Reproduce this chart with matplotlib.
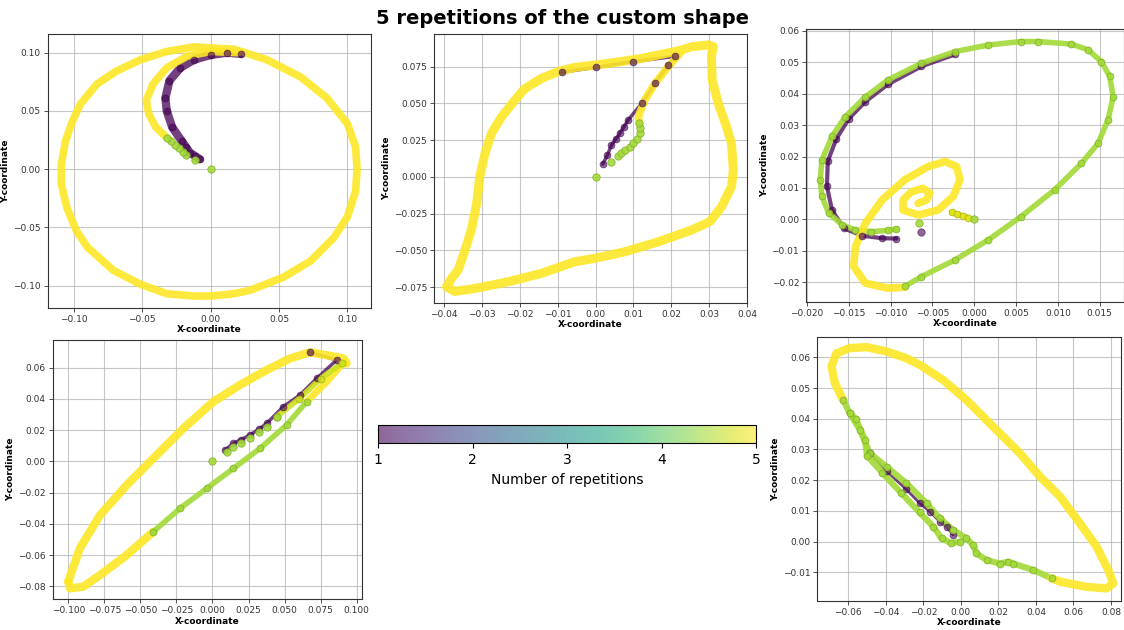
import matplotlib
matplotlib.use("Agg")
import matplotlib.pyplot as plt
import numpy as np

plt.rcParams["font.family"] = ["DejaVu Sans"]

# panel 1 - round loop
p1_loop_x = [0.000, 0.017, 0.041, 0.066, 0.085, 0.100, 0.106, 0.107, 0.106, 0.100, 0.090, 0.073, 0.053, 0.029, 0.017,
             0.000, -0.012, -0.032, -0.051, -0.071, -0.090, -0.098, -0.105, -0.109, -0.109, -0.106, -0.101, -0.095,
             -0.083, -0.069, -0.051, -0.032, -0.012, 0.000]
p1_loop_y = [0.104, 0.103, 0.094, 0.079, 0.061, 0.039, 0.019, 0.000, -0.019, -0.041, -0.059, -0.079, -0.093, -0.104,
             -0.107, -0.109, -0.109, -0.107, -0.099, -0.087, -0.067, -0.053, -0.033, -0.013, 0.004, 0.024, 0.041,
             0.056, 0.073, 0.084, 0.094, 0.101, 0.105, 0.104]
p1_hook_x = [-0.032, -0.040, -0.045, -0.047, -0.042, -0.032, -0.017, 0.000, 0.020]
p1_hook_y = [0.027, 0.036, 0.047, 0.059, 0.073, 0.087, 0.097, 0.101, 0.100]
p1_start_x = [0.000, -0.011, -0.018, -0.020, -0.023, -0.026, -0.029, -0.032]
p1_start_y = [0.000, 0.008, 0.012, 0.015, 0.018, 0.021, 0.024, 0.027]
p1_first_x = [-0.008, -0.011, -0.015, -0.018, -0.021, -0.028, -0.032, -0.033, -0.030, -0.022, -0.012, 0.000, 0.012, 0.022]
p1_first_y = [0.0086, 0.011, 0.014, 0.019, 0.024, 0.036, 0.050, 0.061, 0.076, 0.087, 0.094, 0.098, 0.100, 0.099]

# panel 2 - leaf shape
p2_loop_x = [0.0223, 0.0122, 0.0033, -0.0055, -0.0099, -0.0143, -0.0187, -0.0213, -0.0248, -0.0275, -0.0292, -0.0306,
             -0.0314, -0.0328, -0.0345, -0.0363, -0.0380, -0.0394, -0.0372, -0.0319, -0.0230, -0.0143, -0.0055,
             -0.0002, 0.0077, 0.0166, 0.0254, 0.0302, 0.0333, 0.0359, 0.0364, 0.0359, 0.0346, 0.0324, 0.0308, 0.0306,
             0.0311, 0.0298, 0.0254, 0.0223]
p2_loop_y = [0.0860, 0.0806, 0.0772, 0.0745, 0.0716, 0.0670, 0.0600, 0.0523, 0.0410, 0.0296, 0.0160, 0.0000, -0.0180,
             -0.0360, -0.0500, -0.0634, -0.0690, -0.0748, -0.0780, -0.0760, -0.0714, -0.0657, -0.0578, -0.0555,
             -0.0510, -0.0442, -0.0362, -0.0305, -0.0203, -0.0067, 0.0047, 0.0228, 0.0341, 0.0500, 0.0659, 0.0818,
             0.0886, 0.0898, 0.0886, 0.0860]
p2_stem_x = [0.0115, 0.0113, 0.0130, 0.0157, 0.0192, 0.0223]
p2_stem_y = [0.0364, 0.0410, 0.0523, 0.0636, 0.0750, 0.0840]
p2_start_x = [0.0000, 0.0040, 0.0058, 0.0068, 0.0077, 0.0090, 0.0100, 0.0110, 0.0117, 0.0117, 0.0115]
p2_start_y = [0.0000, 0.0099, 0.0142, 0.0160, 0.0183, 0.0205, 0.0228, 0.0260, 0.0296, 0.0330, 0.0364]
p2_first_x = [0.0019, 0.0031, 0.0042, 0.0053, 0.0064, 0.0075, 0.0086, 0.0122, 0.0157, 0.0192, 0.0210, 0.0100, 0.0000,
              -0.0090]
p2_first_y = [0.0087, 0.0146, 0.0216, 0.0255, 0.0296, 0.0340, 0.0387, 0.0500, 0.0636, 0.0760, 0.0820, 0.0785, 0.0745,
              0.0712]

# panel 3 - ellipse + spiral
p3_ring_x = [-0.0083, -0.0063, -0.0023, 0.0017, 0.0056, 0.0096, 0.0128, 0.0148, 0.0160, 0.0166, 0.0162, 0.0152, 0.0136,
             0.0116, 0.0076, 0.0056, 0.0017, -0.0023, -0.0063, -0.0103, -0.0130, -0.0154, -0.0170, -0.0182, -0.0184,
             -0.0182, -0.0174, -0.0158, -0.0142, -0.0123, -0.0103, -0.0093]
p3_ring_y = [-0.0213, -0.0182, -0.0129, -0.0065, 0.0009, 0.0094, 0.0178, 0.0242, 0.0317, 0.0390, 0.0455, 0.0502, 0.0540,
             0.0558, 0.0566, 0.0566, 0.0555, 0.0534, 0.0497, 0.0444, 0.0390, 0.0327, 0.0264, 0.0189, 0.0126, 0.0073,
             0.0020, -0.0017, -0.0034, -0.0039, -0.0035, -0.0031]
p3_first_x = [-0.0023, -0.0063, -0.0103, -0.0130, -0.0150, -0.0165, -0.0175, -0.0176, -0.0170, -0.0156, -0.0134, -0.0110,
              -0.0093]
p3_first_y = [0.0525, 0.0487, 0.0430, 0.0375, 0.0320, 0.0255, 0.0185, 0.0105, 0.0030, -0.0028, -0.0052, -0.0060, -0.0061]
p3_spiral_x = [-0.0083, -0.0103, -0.0130, -0.0144, -0.0142, -0.0130, -0.0110, -0.0083, -0.0055, -0.0035, -0.0021,
               -0.0017, -0.0025, -0.0043, -0.0067, -0.0085, -0.0085, -0.0075, -0.0061, -0.0053, -0.0057, -0.0067]
p3_spiral_y = [-0.0216, -0.0219, -0.0203, -0.0150, -0.0087, -0.0012, 0.0062, 0.0126, 0.0168, 0.0184, 0.0168, 0.0126,
               0.0073, 0.0030, 0.0014, 0.0030, 0.0062, 0.0088, 0.0099, 0.0083, 0.0062, 0.0051]
p3_tail_x = [-0.0027, -0.0020, -0.0013, -0.0007]
p3_tail_y = [0.0022, 0.0017, 0.0011, 0.0006]
p3_dots_x = [0.0000, -0.0066]
p3_dots_y = [0.0000, -0.0012]
p3_dot1_x = [-0.0064]
p3_dot1_y = [-0.0040]

# panel 4 - long slanted loop
p4_upper_x = [-0.1000, -0.0920, -0.0780, -0.0595, -0.0410, -0.0202, 0.0006, 0.0190, 0.0376, 0.0538, 0.0676, 0.0815,
              0.0908, 0.0930]
p4_upper_y = [-0.0770, -0.0557, -0.0344, -0.0152, 0.0019, 0.0211, 0.0382, 0.0489, 0.0585, 0.0659, 0.0698, 0.0676,
              0.0659, 0.0627]
p4_lowleft_x = [-0.1000, -0.0988, -0.0896, -0.0780, -0.0595, -0.0410]
p4_lowleft_y = [-0.0770, -0.0813, -0.0802, -0.0728, -0.0600, -0.0450]
p4_lower_x = [-0.0410, -0.0225, -0.0040, 0.0145, 0.0330, 0.0514, 0.0653]
p4_lower_y = [-0.0450, -0.0301, -0.0173, -0.0045, 0.0083, 0.0233, 0.0382]
p4_lowright_x = [0.0653, 0.0792, 0.0884, 0.0930]
p4_lowright_y = [0.0382, 0.0510, 0.0606, 0.0638]
p4_start_x = [0.0000, 0.0098, 0.0145, 0.0200, 0.0260, 0.0320, 0.0376, 0.0445]
p4_start_y = [0.0000, 0.0058, 0.0094, 0.0120, 0.0147, 0.0185, 0.0222, 0.0286]
p4_mid_x = [0.0445, 0.0600, 0.0750, 0.0900]
p4_mid_y = [0.0286, 0.0400, 0.0530, 0.0630]
p4_first_x = [0.0087, 0.0145, 0.0200, 0.0260, 0.0320, 0.0376, 0.0491, 0.0607, 0.0723, 0.0861, 0.0676]
p4_first_y = [0.0073, 0.0115, 0.0140, 0.0169, 0.0205, 0.0243, 0.0350, 0.0425, 0.0531, 0.0649, 0.0698]

# panel 5 - slanted loop with tail
p5_loop_x = [-0.0627, -0.0671, -0.0689, -0.0663, -0.0592, -0.0503, -0.0396, -0.0290, -0.0218, -0.0094, 0.0030, 0.0172,
             0.0314, 0.0421, 0.0528, 0.0634, 0.0723, 0.0785, 0.0812, 0.0776, 0.0670, 0.0528, 0.0483]
p5_loop_y = [0.0461, 0.0516, 0.0570, 0.0613, 0.0630, 0.0633, 0.0619, 0.0597, 0.0575, 0.0526, 0.0461, 0.0374, 0.0288,
             0.0212, 0.0147, 0.0060, -0.0016, -0.0092, -0.0136, -0.0152, -0.0147, -0.0130, -0.0119]
p5_band_x = [-0.0627, -0.0592, -0.0538, -0.0485, -0.0396, -0.0290, -0.0183, -0.0112, -0.0041, 0.0030, 0.0066, 0.0083,
             0.0137, 0.0208, 0.0252, 0.0279, 0.0385, 0.0483]
p5_band_y = [0.0461, 0.0418, 0.0364, 0.0288, 0.0244, 0.0190, 0.0125, 0.0076, 0.0038, 0.0011, -0.0011, -0.0038, -0.0060,
             -0.0071, -0.0065, -0.0071, -0.0092, -0.0119]
p5_band2_x = [-0.0592, -0.0560, -0.0510, -0.0500, -0.0420, -0.0320, -0.0220, -0.0147, -0.0103, -0.0050, -0.0005]
p5_band2_y = [0.0418, 0.0400, 0.0330, 0.0280, 0.0225, 0.0160, 0.0095, 0.0049, 0.0011, -0.0005, 0.0000]
p5_first_x = [-0.0485, -0.0396, -0.0290, -0.0219, -0.0165, -0.0112, -0.0076, -0.0041]
p5_first_y = [0.0288, 0.0230, 0.0170, 0.0125, 0.0098, 0.0065, 0.0049, 0.0022]

FIRST, MID, LAST = 1.0, 4.45, 5.0

cmap = plt.get_cmap("viridis")
norm = plt.Normalize(1, 5)


def draw(ax, xs, ys, rep, line=True, s=24, lw=5.5):
    col = cmap(norm(rep))
    edge = tuple(0.8 * c for c in col[:3])
    if line and len(xs) > 1:
        ax.plot(xs, ys, color=col, lw=lw, alpha=0.9 if rep > 2 else 0.75,
                solid_capstyle="round", solid_joinstyle="round", zorder=2)
    if rep < 4.9 or not line:
        ax.scatter(xs, ys, color=col, s=s, alpha=0.9 if rep > 2 else 0.6,
                   edgecolors=edge, linewidths=0.6, zorder=3)


def style(ax):
    ax.grid(True, color="#b0b0b0", lw=0.8, alpha=0.7)
    ax.set_axisbelow(True)
    ax.tick_params(labelsize=6.5, length=3, width=0.6, pad=2, colors="#333333")
    for sp in ax.spines.values():
        sp.set_color("#333333")
        sp.set_linewidth(0.8)
    ax.set_xlabel("X-coordinate", fontsize=6.5, fontweight="bold", labelpad=1)
    ax.set_ylabel("Y-coordinate", fontsize=6.5, fontweight="bold", labelpad=2)


fig = plt.figure(figsize=(11.24, 6.30), dpi=100)
fig.suptitle("5 repetitions of the custom shape", fontsize=14, fontweight="bold", y=0.985)

# panel 1
ax1 = fig.add_axes([0.0424, 0.5116, 0.2874, 0.4344])
draw(ax1, p1_first_x, p1_first_y, FIRST, lw=6)
draw(ax1, p1_loop_x, p1_loop_y, LAST)
draw(ax1, p1_hook_x, p1_hook_y, LAST)
draw(ax1, p1_start_x, p1_start_y, MID, line=False, s=28)
ax1.set_xlim(-0.119, 0.117)
ax1.set_ylim(-0.119, 0.116)
style(ax1)

# panel 2
ax2 = fig.add_axes([0.3864, 0.5190, 0.2782, 0.4265])
draw(ax2, p2_first_x, p2_first_y, FIRST, lw=2.5)
draw(ax2, p2_loop_x, p2_loop_y, LAST, lw=6.5)
draw(ax2, p2_stem_x, p2_stem_y, LAST)
draw(ax2, p2_start_x, p2_start_y, MID, line=False, s=28)
ax2.set_xlim(-0.0426, 0.0400)
ax2.set_ylim(-0.0859, 0.0970)
style(ax2)

# panel 3
ax3 = fig.add_axes([0.7171, 0.5211, 0.2829, 0.4324])
draw(ax3, p3_first_x, p3_first_y, FIRST, lw=3)
draw(ax3, p3_dot1_x, p3_dot1_y, FIRST, line=False, s=28)
draw(ax3, p3_ring_x, p3_ring_y, MID, lw=4)
draw(ax3, p3_spiral_x, p3_spiral_y, LAST, lw=5.5)
draw(ax3, p3_tail_x, p3_tail_y, 4.8, lw=4)
draw(ax3, p3_dots_x, p3_dots_y, MID, line=False, s=28)
ax3.set_xlim(-0.0201, 0.0179)
ax3.set_ylim(-0.0262, 0.0605)
style(ax3)

# panel 4
ax4 = fig.add_axes([0.0469, 0.0487, 0.2749, 0.4116])
draw(ax4, p4_first_x, p4_first_y, FIRST, lw=2.5)
draw(ax4, p4_upper_x, p4_upper_y, LAST, lw=6)
draw(ax4, p4_lowleft_x, p4_lowleft_y, LAST, lw=6)
draw(ax4, p4_lower_x, p4_lower_y, MID, lw=4)
draw(ax4, p4_lowright_x, p4_lowright_y, LAST, lw=5)
draw(ax4, p4_mid_x, p4_mid_y, 4.7, lw=4)
draw(ax4, p4_start_x, p4_start_y, MID, line=False, s=28)
ax4.set_xlim(-0.1108, 0.1035)
ax4.set_ylim(-0.0883, 0.0777)
style(ax4)

# panel 5
ax5 = fig.add_axes([0.7271, 0.0465, 0.2702, 0.4181])
draw(ax5, p5_first_x, p5_first_y, FIRST, lw=2)
draw(ax5, p5_band_x, p5_band_y, MID, lw=4.5)
draw(ax5, p5_band2_x, p5_band2_y, MID, lw=4.5)
draw(ax5, p5_loop_x, p5_loop_y, LAST, lw=6)
ax5.set_xlim(-0.0765, 0.0853)
ax5.set_ylim(-0.0192, 0.0665)
style(ax5)

# colour bar
cax = fig.add_axes([0.3366, 0.2963, 0.3360, 0.0290])
sm = plt.cm.ScalarMappable(norm=norm, cmap=cmap)
cb = fig.colorbar(sm, cax=cax, orientation="horizontal", ticks=[1, 2, 3, 4, 5], alpha=0.6)
cb.set_label("Number of repetitions", fontsize=10)
cb.ax.tick_params(labelsize=10)
cb.outline.set_linewidth(0.8)

fig.savefig("out.png", dpi=100)
